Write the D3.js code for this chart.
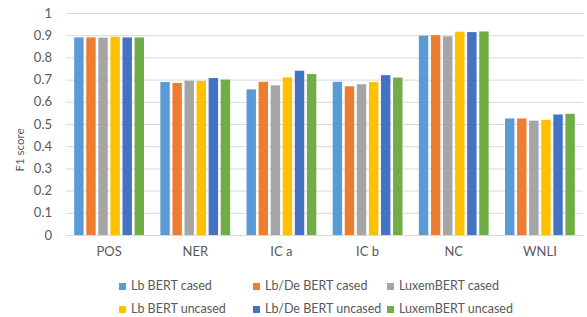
<!DOCTYPE html>
<html><head><meta charset="utf-8">
<script src="https://cdn.jsdelivr.net/npm/d3@7"></script>
<style>body{margin:0;background:#fff}svg{display:block;font-family:Lato,"Open Sans",sans-serif}</style>
</head><body><svg id="c" width="587" height="317"></svg>
<script>
const categories = ["POS","NER","IC a","IC b","NC","WNLI"];
const seriesNames = ["Lb BERT cased","Lb/De BERT cased","LuxemBERT cased","Lb BERT uncased","Lb/De BERT uncased","LuxemBERT uncased"];
const colors = ["#5B9BD5","#ED7D31","#A5A5A5","#FFC000","#4472C4","#70AD47"];
const lbCased      = [0.890,0.689,0.656,0.690,0.898,0.525];
const lbDeCased    = [0.890,0.685,0.690,0.670,0.900,0.525];
const luxCased     = [0.889,0.695,0.674,0.679,0.895,0.515];
const lbUncased    = [0.893,0.694,0.710,0.689,0.916,0.519];
const lbDeUncased  = [0.890,0.707,0.740,0.720,0.914,0.543];
const luxUncased   = [0.890,0.700,0.725,0.709,0.917,0.546];
const yTicks = [0,0.1,0.2,0.3,0.4,0.5,0.6,0.7,0.8,0.9,1];
const yTickLabels = ["0","0.1","0.2","0.3","0.4","0.5","0.6","0.7","0.8","0.9","1"];
const yTitle = "F1 score";

(function(){
const series = [lbCased,lbDeCased,luxCased,lbUncased,lbDeUncased,luxUncased];
const svg = d3.select("#c");
const pLeft = 66, pRight = 583, pTop = 13, pBottom = 235;
const x0 = d3.scaleBand().domain(categories).range([pLeft,pRight]).paddingInner(0.19).paddingOuter(0.095);
const x1 = d3.scaleBand().domain(d3.range(6)).range([0,x0.bandwidth()]).paddingInner(0.22);
const y = d3.scaleLinear().domain([0,1]).range([pBottom,pTop]);

const yAxis = d3.axisLeft(y).tickValues(yTicks).tickSize(-(pRight-pLeft)).tickFormat((d,i)=>yTickLabels[i]).tickPadding(14);
const ga = svg.append("g").attr("transform",`translate(${pLeft},0)`).call(yAxis);
ga.select(".domain").remove();
ga.selectAll(".tick line").attr("stroke","#d9d9d9").attr("stroke-width",1);
ga.selectAll(".tick text").attr("fill","#595959").attr("font-size","13px").attr("font-family","Lato,sans-serif");

categories.forEach((c,ci)=>{
  const g = svg.append("g").attr("transform",`translate(${x0(c)},0)`);
  g.selectAll("rect").data(series.map((s,si)=>({si,v:s[ci]}))).join("rect")
    .attr("x",d=>x1(d.si)).attr("width",x1.bandwidth())
    .attr("y",d=>y(d.v)).attr("height",d=>y(0)-y(d.v))
    .attr("fill",d=>colors[d.si]);
});

const xAxis = d3.axisBottom(x0).tickSize(0).tickPadding(12);
const gx = svg.append("g").attr("transform",`translate(0,${pBottom})`).call(xAxis);
gx.select(".domain").remove();
gx.selectAll(".tick text").attr("fill","#595959").attr("font-size","13px").attr("font-family","Lato,sans-serif");

svg.append("text").attr("transform","translate(24,150) rotate(-90)").attr("text-anchor","middle")
  .attr("fill","#595959").attr("font-size","11.5px").text(yTitle);

const legX = [119,253,387], legY = [290,313];
seriesNames.forEach((n,i)=>{
  const cx = legX[i%3], cy = legY[Math.floor(i/3)];
  svg.append("rect").attr("x",cx).attr("y",cy-7).attr("width",7).attr("height",7).attr("fill",colors[i]);
  svg.append("text").attr("x",cx+12).attr("y",cy).attr("fill","#595959").attr("font-size","12.5px").text(n);
});
})();
</script></body></html>
